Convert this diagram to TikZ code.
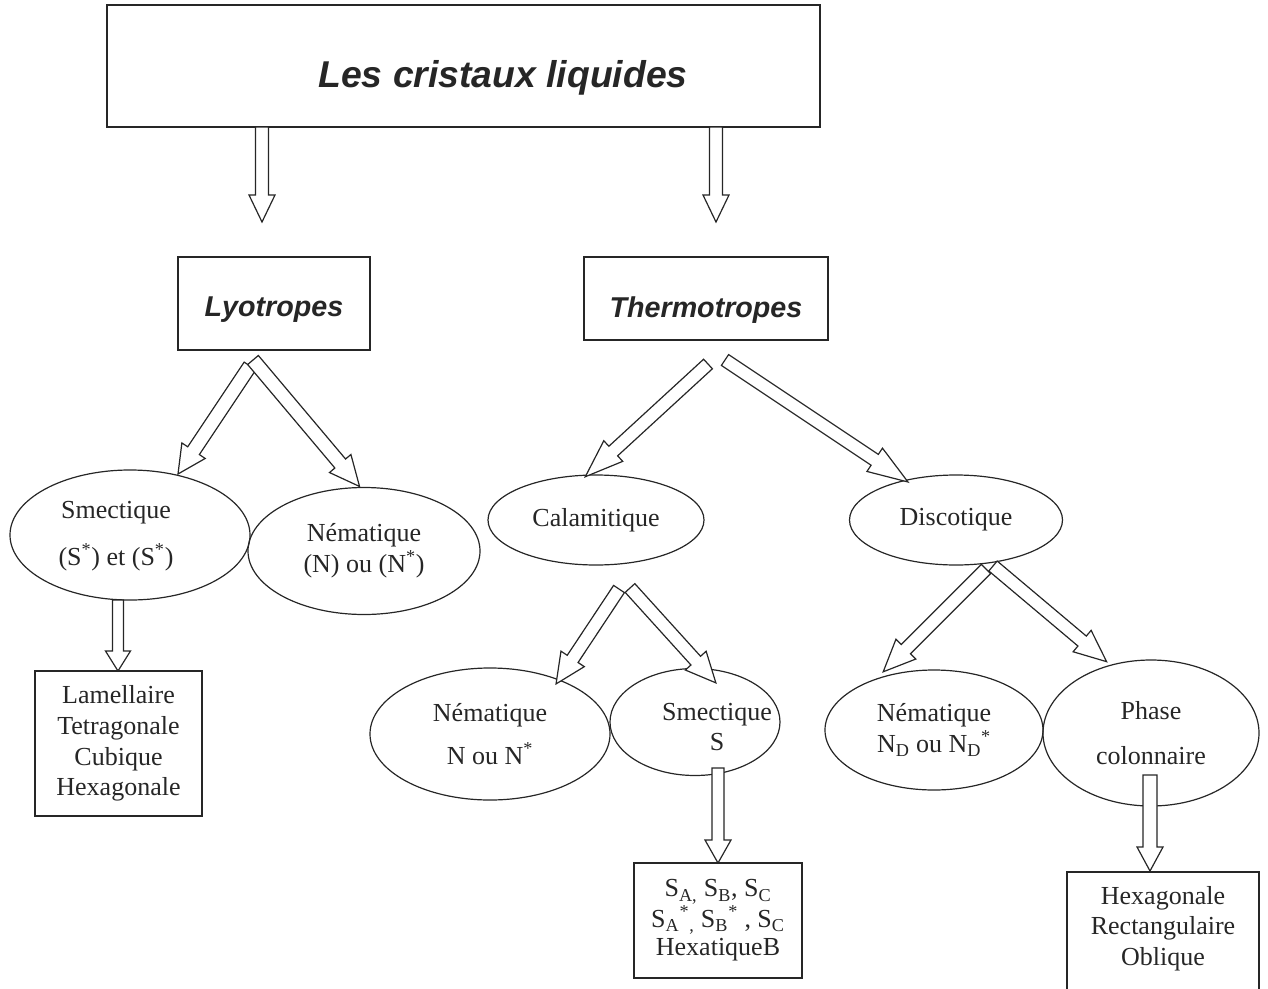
\documentclass[tikz,border=0pt]{standalone}
\usepackage{fontspec}
\setmainfont{Liberation Serif}
\newfontfamily\arialf{Liberation Sans}
\usetikzlibrary{shapes.geometric,calc}

% block arrow: #1 tail coordinate, #2 tip coordinate, #3 shaft half width, #4 head half width, #5 head length (px)
\newcommand{\blockarr}[5]{%
  \pgfpointdiff{\pgfpointanchor{#1}{center}}{\pgfpointanchor{#2}{center}}%
  \pgfgetlastxy{\bdx}{\bdy}%
  \pgfmathsetmacro{\barang}{atan2(\bdy,\bdx)}%
  \pgfmathsetmacro{\barlen}{veclen(\bdx,\bdy)}%
  \pgfmathsetmacro{\barsw}{#3*0.75}%
  \pgfmathsetmacro{\barhw}{#4*0.75}%
  \pgfmathsetmacro{\barhl}{\barlen-#5*0.75}%
  \draw[blockline, shift={(#1)}, rotate=\barang]
    (0pt,-\barsw pt) -- (\barhl pt,-\barsw pt) -- (\barhl pt,-\barhw pt) -- (\barlen pt,0pt)
    -- (\barhl pt,\barhw pt) -- (\barhl pt,\barsw pt) -- (0pt,\barsw pt) -- cycle;
}

\begin{document}
\begin{tikzpicture}[x=0.75pt,y=-0.75pt,
  txt/.style={font=\fontsize{19.5}{23}\selectfont, align=center, text=black!85},
  hdr/.style={font=\arialf\bfseries\itshape\fontsize{21.5}{26}\selectfont, text=black!85},
  rbox/.style={draw=black!85, line width=1.2pt, rectangle, inner sep=0pt},
  ell/.style={draw=black!85, line width=0.9pt, ellipse, inner sep=0pt},
  blockline/.style={draw=black!85, fill=white, line width=0.9pt, line join=miter}]

\useasboundingbox (0,0) rectangle (1268,989);

% title
\node[rbox, minimum width=534.75pt, minimum height=91.5pt] (title) at (463.5,66) {};
\node[font=\arialf\bfseries\itshape\fontsize{28}{33}\selectfont, text=black!85] (titletext) at (503,78) {Les cristaux liquides};

% second level
\node[rbox, hdr, text height=24.5pt, text depth=4.5pt, minimum width=144pt, minimum height=69.75pt] (lyo) at (274,303.5) {Lyotropes};
\node[rbox, hdr, text height=33pt, text depth=4.5pt, minimum width=183pt, minimum height=62.25pt] (thermo) at (706,298.5) {Thermotropes};

% ellipses
\node[ell, minimum width=180pt, minimum height=97.5pt] (smecL) at (130,535) {};
\node[txt] (smecLt) at (116,536) {Smectique\\[12pt](S\textsuperscript{*}) et (S\textsuperscript{*})};
\node[ell, txt, minimum width=174pt, minimum height=95.25pt] (nemL) at (364,551) {Nématique\\(N) ou (N\textsuperscript{*})};
\node[ell, txt, minimum width=162pt, minimum height=67.5pt] (cala) at (596,520) {Calamitique};
\node[ell, txt, minimum width=159.75pt, minimum height=67.5pt] (disco) at (956,520) {Discotique};
\node[ell, txt, minimum width=180pt, minimum height=99pt] (nemC) at (490,734) {Nématique\\[9pt]N ou N\textsuperscript{*}};
\node[ell, minimum width=127.5pt, minimum height=80.25pt] (smecS) at (695,722) {};
\node[txt] (smecSt) at (717,727) {Smectique\\S};
\node[ell, txt, minimum width=163.5pt, minimum height=90pt] (nemD) at (934,730) {Nématique\\N\textsubscript{D} ou N\textsubscript{D}\textsuperscript{*}};
\node[ell, txt, minimum width=162pt, minimum height=109.5pt] (phase) at (1151,733) {Phase\\[11pt]colonnaire};

% boxes
\node[rbox, txt, minimum width=125.25pt, minimum height=108.75pt] (lam) at (118.5,743.5) {Lamellaire\\Tetragonale\\Cubique\\Hexagonale};
\node[rbox, txt, font=\fontsize{19.5}{21.5}\selectfont, minimum width=126pt, minimum height=86.25pt] (sbox) at (718,920.5)
  {S\textsubscript{A,} S\textsubscript{B}, S\textsubscript{C}\\S\textsubscript{A}\textsuperscript{*}\textsubscript{,} S\textsubscript{B}\textsuperscript{*} , S\textsubscript{C}\\HexatiqueB};
\node[rbox, txt, minimum width=144pt, minimum height=103.5pt] (hbox) at (1163,941) {Hexagonale\\Rectangulaire\\Oblique\\[0pt]\mbox{}};

% arrow end points
\coordinate (a1s) at (262,127);  \coordinate (a1e) at (262,222);
\coordinate (a2s) at (716,127);  \coordinate (a2e) at (716,222);
\coordinate (a3s) at (250,366);  \coordinate (a3e) at (178,474);
\coordinate (a4s) at (253,360);  \coordinate (a4e) at (360,487);
\coordinate (a5s) at (708,364);  \coordinate (a5e) at (585,477);
\coordinate (a6s) at (725,360);  \coordinate (a6e) at (908,482);
\coordinate (a7s) at (619,589);  \coordinate (a7e) at (556,684);
\coordinate (a8s) at (630,588);  \coordinate (a8e) at (716,683);
\coordinate (a9s) at (986,569);  \coordinate (a9e) at (883,672);
\coordinate (a10s) at (993,566); \coordinate (a10e) at (1107,662);
\coordinate (a11s) at (118,600); \coordinate (a11e) at (118,671);
\coordinate (a12s) at (718,768); \coordinate (a12e) at (718,863);
\coordinate (a13s) at (1150,775); \coordinate (a13e) at (1150,871);

\blockarr{a1s}{a1e}{6.5}{13}{27}
\blockarr{a2s}{a2e}{6.5}{13}{27}
\blockarr{a3s}{a3e}{7}{14}{28}
\blockarr{a4s}{a4e}{7}{14}{30}
\blockarr{a5s}{a5e}{6.5}{14}{38}
\blockarr{a6s}{a6e}{6.5}{14}{40}
\blockarr{a7s}{a7e}{6.5}{14}{30}
\blockarr{a8s}{a8e}{6.5}{14}{30}
\blockarr{a9s}{a9e}{6.5}{14}{32}
\blockarr{a10s}{a10e}{6.5}{14}{32}
\blockarr{a11s}{a11e}{5.5}{12.5}{20}
\blockarr{a12s}{a12e}{6}{13}{23}
\blockarr{a13s}{a13e}{7}{13}{24}
\end{tikzpicture}
\end{document}
